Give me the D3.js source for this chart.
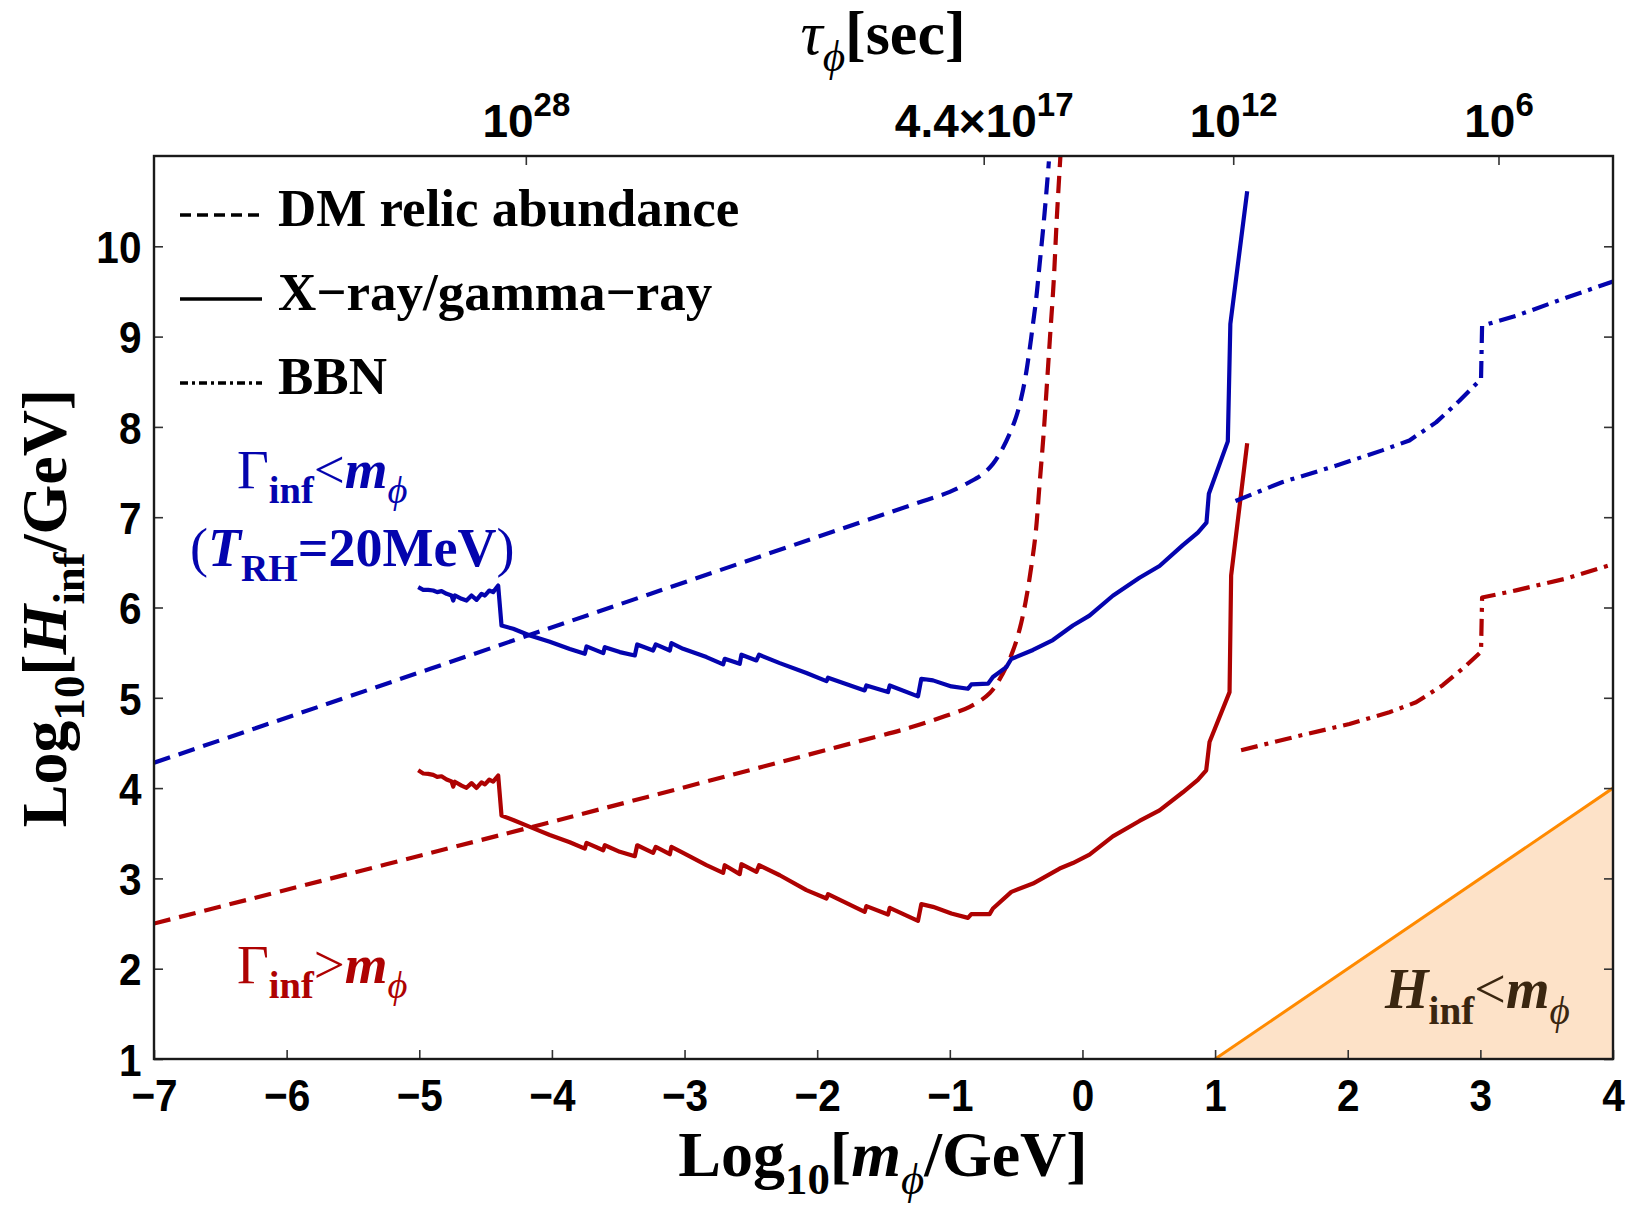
<!DOCTYPE html>
<html>
<head>
<meta charset="utf-8">
<script src="https://cdn.jsdelivr.net/npm/d3@7"></script>
<style>
  body { margin: 0; background: #fff; }
  svg { display: block; }
</style>
</head>
<body>
<svg id="chart" width="1629" height="1207"></svg>
<script>
// ---- data (x = Log10[m/GeV], y = Log10[H/GeV]) ----
var xTicks = [-7, -6, -5, -4, -3, -2, -1, 0, 1, 2, 3, 4];
var yTicks = [1, 2, 3, 4, 5, 6, 7, 8, 9, 10];
var tauTicks = [1e28, 4.4e17, 1e12, 1e6];
var tauLabels = [["10", "28"], ["4.4\u00d710", "17"], ["10", "12"], ["10", "6"]];

var dmBlue = [[-7, 4.28], [-3.26, 6.15], [-1.2, 7.18], [-1.0, 7.28], [-0.85, 7.39], [-0.75, 7.48], [-0.675, 7.59],
  [-0.61, 7.74], [-0.55, 7.92], [-0.50, 8.11], [-0.46, 8.33], [-0.43, 8.55], [-0.40, 8.84],
  [-0.373, 9.14], [-0.348, 9.43], [-0.323, 9.80], [-0.298, 10.17], [-0.273, 10.58], [-0.253, 10.94]];

var dmRed = [[-7, 2.50], [-3.94, 3.65], [-1.68, 4.52], [-1.30, 4.67], [-1.05, 4.79], [-0.85, 4.90],
  [-0.70, 5.05], [-0.60, 5.27], [-0.524, 5.52], [-0.47, 5.78], [-0.424, 6.10], [-0.386, 6.45],
  [-0.353, 6.82], [-0.323, 7.37], [-0.293, 7.92], [-0.268, 8.47], [-0.243, 9.03], [-0.218, 9.58],
  [-0.193, 10.32], [-0.167, 10.98], [-0.162, 11.1]];

var xrayBlue = [[-5.008, 6.225], [-4.970, 6.195], [-4.933, 6.195], [-4.895, 6.188], [-4.865, 6.170],
  [-4.832, 6.181], [-4.794, 6.151], [-4.757, 6.133], [-4.744, 6.077], [-4.732, 6.133], [-4.681, 6.096],
  [-4.644, 6.077], [-4.606, 6.133], [-4.568, 6.085], [-4.531, 6.151], [-4.505, 6.133], [-4.473, 6.188],
  [-4.443, 6.170], [-4.405, 6.243], [-4.380, 5.801], [-4.292, 5.764], [-4.166, 5.690], [-4.016, 5.62],
  [-3.865, 5.54], [-3.752, 5.488], [-3.739, 5.569], [-3.613, 5.495], [-3.601, 5.561], [-3.488, 5.506],
  [-3.375, 5.469], [-3.357, 5.591], [-3.237, 5.524], [-3.217, 5.591], [-3.111, 5.524], [-3.099, 5.606],
  [-3.011, 5.543], [-2.835, 5.451], [-2.709, 5.370], [-2.697, 5.432], [-2.584, 5.377], [-2.571, 5.477],
  [-2.458, 5.414], [-2.438, 5.477], [-2.282, 5.384], [-2.081, 5.274], [-1.930, 5.185], [-1.918, 5.222],
  [-1.642, 5.082], [-1.629, 5.137], [-1.466, 5.064], [-1.453, 5.137], [-1.240, 5.016], [-1.215, 5.211],
  [-1.127, 5.193], [-0.988, 5.126], [-0.863, 5.100], [-0.838, 5.148], [-0.712, 5.156], [-0.675, 5.230],
  [-0.574, 5.340], [-0.537, 5.43], [-0.373, 5.53], [-0.223, 5.64], [-0.072, 5.80], [0.053, 5.91],
  [0.229, 6.13], [0.430, 6.33], [0.581, 6.46], [0.757, 6.69], [0.870, 6.83], [0.935, 6.94],
  [0.953, 7.26], [1.096, 7.84], [1.115, 9.14], [1.242, 10.61]];

var xrayRed = [[-5.008, 4.197], [-4.970, 4.162], [-4.933, 4.158], [-4.895, 4.146], [-4.865, 4.124],
  [-4.832, 4.131], [-4.794, 4.096], [-4.757, 4.074], [-4.744, 4.016], [-4.732, 4.070], [-4.681, 4.027],
  [-4.644, 4.003], [-4.606, 4.055], [-4.568, 4.002], [-4.531, 4.063], [-4.505, 4.042], [-4.473, 4.093],
  [-4.443, 4.071], [-4.405, 4.140], [-4.380, 3.695], [-4.292, 3.647], [-4.166, 3.57], [-4.016, 3.48],
  [-3.865, 3.40], [-3.752, 3.33], [-3.739, 3.393], [-3.613, 3.312], [-3.601, 3.367], [-3.488, 3.294],
  [-3.375, 3.246], [-3.357, 3.367], [-3.237, 3.283], [-3.217, 3.349], [-3.111, 3.268], [-3.099, 3.349],
  [-3.011, 3.283], [-2.835, 3.146], [-2.709, 3.061], [-2.697, 3.146], [-2.584, 3.047], [-2.571, 3.157],
  [-2.458, 3.072], [-2.438, 3.146], [-2.282, 3.035], [-2.081, 2.870], [-1.930, 2.777], [-1.918, 2.825],
  [-1.642, 2.630], [-1.629, 2.693], [-1.466, 2.600], [-1.453, 2.674], [-1.240, 2.530], [-1.215, 2.715],
  [-1.127, 2.685], [-0.988, 2.611], [-0.863, 2.563], [-0.838, 2.604], [-0.700, 2.604], [-0.675, 2.667],
  [-0.536, 2.851], [-0.373, 2.943], [-0.172, 3.109], [-0.072, 3.17], [0.053, 3.264], [0.229, 3.465],
  [0.430, 3.636], [0.581, 3.754], [0.757, 3.954], [0.870, 4.09], [0.933, 4.197], [0.958, 4.51],
  [1.109, 5.063], [1.121, 6.354], [1.242, 7.818]];

var bbnBlue = [[1.154, 7.18], [1.51, 7.39], [1.91, 7.57], [2.26, 7.74], [2.465, 7.85], [2.666, 8.05],
  [2.842, 8.29], [3.005, 8.53], [3.013, 9.12], [3.269, 9.23], [3.646, 9.43], [4.0, 9.61]];

var bbnRed = [[1.196, 4.42], [1.636, 4.58], [2.013, 4.71], [2.314, 4.84], [2.515, 4.95], [2.716, 5.14],
  [2.88, 5.34], [3.005, 5.51], [3.013, 6.11], [3.269, 6.19], [3.646, 6.32], [4.0, 6.48]];

var hBound = [[1, 1], [4, 4]];
var hRegion = [[1, 1], [4, 4], [4, 1]];

// ---- layout ----
var blue = "#0404ae", red = "#ae0202";
var margin = {left: 154, top: 156, right: 16, bottom: 148};
var W = 1629, H = 1207;
var w = W - margin.left - margin.right, h = H - margin.top - margin.bottom;
var serif = "'Liberation Serif', 'Times New Roman', serif";
var sans = "'Liberation Sans', Arial, sans-serif";

var svg = d3.select("#chart");
svg.append("rect").attr("width", W).attr("height", H).attr("fill", "#fff");
var g = svg.append("g").attr("transform", "translate(" + margin.left + "," + margin.top + ")");

var x = d3.scaleLinear().domain([-7, 4]).range([0, w]);
var y = d3.scaleLinear().domain([1, 11]).range([h, 0]);
// tau ~ m^-3 : top axis is a log scale running the other way
var tau = d3.scaleLog().domain([Math.pow(10, 36.41), Math.pow(10, 3.41)]).range([0, w]);

g.append("clipPath").attr("id", "clip").append("rect").attr("width", w).attr("height", h);
var plot = g.append("g").attr("clip-path", "url(#clip)");

var line = d3.line().x(function(d) { return x(d[0]); }).y(function(d) { return y(d[1]); });
var smooth = d3.line().x(function(d) { return x(d[0]); }).y(function(d) { return y(d[1]); })
  .curve(d3.curveCatmullRom.alpha(0.5));

// H_inf < m region
plot.append("path").attr("d", line(hRegion) + "Z").attr("fill", "#fde2c8");
plot.append("path").attr("d", line(hBound)).attr("stroke", "#ff8a00").attr("stroke-width", 3).attr("fill", "none");

function curve(data, color, dash, gen) {
  plot.append("path").attr("d", (gen || line)(data))
    .attr("fill", "none").attr("stroke", color).attr("stroke-width", 4.2)
    .attr("stroke-dasharray", dash).attr("stroke-linejoin", "round");
}
curve(dmBlue, blue, "17,9", smooth);
curve(dmRed, red, "17,9", smooth);
curve(xrayBlue, blue, null);
curve(xrayRed, red, null);
curve(bbnBlue, blue, "17,7,4,7");
curve(bbnRed, red, "17,7,4,7");

// ---- axes ----
function styleAxis(sel) {
  sel.select(".domain").remove();
  sel.selectAll(".tick line").attr("stroke", "#333").attr("stroke-width", 1.6);
  sel.selectAll("text").attr("font-family", sans).attr("font-weight", "bold")
    .attr("font-size", 45).attr("fill", "#000");
}
var axisB = g.append("g").attr("transform", "translate(0," + h + ")")
  .call(d3.axisBottom(x).tickValues(xTicks).tickSize(-9).tickPadding(20)
    .tickFormat(function(d) { return d < 0 ? "\u2212" + Math.abs(d) : d; }));
styleAxis(axisB);
axisB.selectAll("text").attr("transform", "scale(0.9,1)");

var axisL = g.append("g").call(d3.axisLeft(y).tickValues(yTicks).tickSize(-9).tickPadding(14));
styleAxis(axisL);
axisL.selectAll("text").attr("transform", "scale(0.9,1)").attr("dy", "0.36em");

var axisR = g.append("g").attr("transform", "translate(" + w + ",0)")
  .call(d3.axisRight(y).tickValues(yTicks).tickSize(-9).tickFormat(""));
styleAxis(axisR);

var axisT = g.append("g").call(d3.axisTop(tau).tickValues(tauTicks).tickSize(-9).tickFormat(""));
styleAxis(axisT);
axisT.selectAll(".tick").each(function(d, i) {
  var t = d3.select(this).append("text").attr("y", -19).attr("text-anchor", "middle")
    .attr("font-family", sans).attr("font-weight", "bold").attr("font-size", 46)
    .attr("fill", "#000");
  t.append("tspan").text(tauLabels[i][0]);
  t.append("tspan").text(tauLabels[i][1]).attr("font-size", 33).attr("dy", -21);
});

g.append("rect").attr("width", w).attr("height", h).attr("fill", "none")
  .attr("stroke", "#1a1a1a").attr("stroke-width", 2.4);

// ---- rich text helper (sub/superscripts) ----
function rich(parent, px, py, parts, size, color, anchor) {
  var t = parent.append("text").attr("x", px).attr("y", py)
    .attr("font-family", serif).attr("font-size", size)
    .attr("fill", color || "#000").attr("text-anchor", anchor || "start");
  var shift = 0;
  parts.forEach(function(p) {
    var target = p.sub ? size * 0.28 : 0;
    t.append("tspan").text(p.t)
      .attr("dy", target - shift)
      .attr("font-size", p.sub ? size * 0.7 : size)
      .attr("font-weight", p.n ? "normal" : "bold")
      .attr("font-style", p.i ? "italic" : "normal");
    shift = target;
  });
  return t;
}

// axis titles
rich(svg, 883, 1176, [{t: "Log"}, {t: "10", sub: true}, {t: "["}, {t: "m", i: true}, {t: "\u03d5", sub: true, i: true, n: true}, {t: "/GeV]"}], 64, "#000", "middle");
rich(svg.append("g").attr("transform", "translate(66,608) rotate(-90)"), 0, 0,
  [{t: "Log"}, {t: "10", sub: true}, {t: "["}, {t: "H", i: true}, {t: "inf", sub: true}, {t: "/GeV]"}], 64, "#000", "middle");
rich(svg, 883, 54, [{t: "\u03c4", i: true, n: true}, {t: "\u03d5", sub: true, i: true, n: true}, {t: "[sec]"}], 62, "#000", "middle");

// legend
var legendItems = [
  {label: "DM relic abundance", dash: "11,6"},
  {label: "X\u2212ray/gamma\u2212ray", dash: null},
  {label: "BBN", dash: "8,4,3,4"}
];
legendItems.forEach(function(d, i) {
  var ly = 226 + i * 84;
  svg.append("line").attr("x1", 180).attr("x2", 262).attr("y1", ly - 11).attr("y2", ly - 11)
    .attr("stroke", "#000").attr("stroke-width", 3.4).attr("stroke-dasharray", d.dash);
  rich(svg, 278, ly, [{t: d.label}], 53, "#000");
});

// annotations
rich(svg, 237, 488, [{t: "\u0393", n: true}, {t: "inf", sub: true}, {t: "<", n: true}, {t: "m", i: true}, {t: "\u03d5", sub: true, i: true, n: true}], 55, blue);
rich(svg, 190, 566, [{t: "(", n: true}, {t: "T", i: true}, {t: "RH", sub: true}, {t: "=20MeV"}, {t: ")", n: true}], 54, blue);
rich(svg, 237, 983, [{t: "\u0393", n: true}, {t: "inf", sub: true}, {t: ">", n: true}, {t: "m", i: true}, {t: "\u03d5", sub: true, i: true, n: true}], 55, red);
rich(svg, 1385, 1008, [{t: "H", i: true}, {t: "inf", sub: true}, {t: "<", n: true}, {t: "m", i: true}, {t: "\u03d5", sub: true, i: true, n: true}], 56, "#3a2610");
</script>
</body>
</html>
